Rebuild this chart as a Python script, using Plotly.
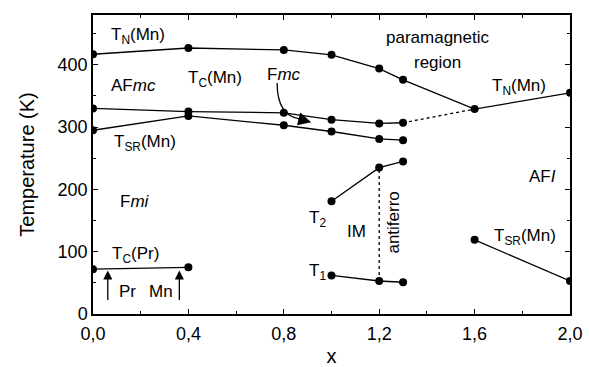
import plotly.graph_objects as go

# ---- data ----
tn_x = [0.0, 0.4, 0.8, 1.0, 1.2, 1.3, 1.6, 2.0]
tn_T = [417, 427, 424, 416, 394, 376, 329, 355]
tc_x = [0.0, 0.4, 0.8, 1.0, 1.2, 1.3]
tc_T = [330, 325, 323, 312, 306, 307]
tsr_x = [0.0, 0.4, 0.8, 1.0, 1.2, 1.3]
tsr_T = [295, 318, 303, 293, 281, 279]
tcpr_x = [0.0, 0.4]
tcpr_T = [72, 75]
t2_x = [1.0, 1.2, 1.3]
t2_T = [181, 235, 245]
t1_x = [1.0, 1.2, 1.3]
t1_T = [62, 53, 51]
tsr2_x = [1.6, 2.0]
tsr2_T = [119, 53]

x_ticks = [0.0, 0.4, 0.8, 1.2, 1.6, 2.0]
y_ticks = [0, 100, 200, 300, 400]

FONT = "Arial, Liberation Sans, sans-serif"
fig = go.Figure()

line = dict(color="black", width=1.3)
mk = dict(color="black", size=8)
for xs, ys in [(tn_x, tn_T), (tc_x, tc_T), (tsr_x, tsr_T), (tcpr_x, tcpr_T),
               (t2_x, t2_T), (t1_x, t1_T), (tsr2_x, tsr2_T)]:
    fig.add_trace(go.Scatter(x=xs, y=ys, mode="lines+markers", line=line,
                             marker=mk, showlegend=False, hoverinfo="skip"))

# dotted connections
fig.add_trace(go.Scatter(x=[tc_x[-1], tn_x[6]], y=[tc_T[-1], tn_T[6]], mode="lines",
                         line=dict(color="black", width=1.3, dash="dot"),
                         showlegend=False, hoverinfo="skip"))
fig.add_trace(go.Scatter(x=[t1_x[1], t2_x[1]], y=[t1_T[1], t2_T[1]], mode="lines",
                         line=dict(color="black", width=1.3, dash="dot"),
                         showlegend=False, hoverinfo="skip"))

TS = 17

def txt(x, y, s, angle=0, size=TS):
    fig.add_annotation(x=x, y=y, text=s, showarrow=False, textangle=angle,
                       font=dict(family=FONT, size=size, color="black"))

txt(0.19, 447, "T<sub>N</sub>(Mn)")
txt(0.17, 367, "AF<i>mc</i>")
txt(0.51, 378, "T<sub>C</sub>(Mn)")
txt(0.80, 384, "F<i>mc</i>")
txt(0.22, 274, "T<sub>SR</sub>(Mn)")
txt(1.446, 444, "paramagnetic")
txt(1.446, 404, "region")
txt(1.787, 364, "T<sub>N</sub>(Mn)")
txt(1.883, 220, "AF<i>I</i>")
txt(0.177, 180, "F<i>mi</i>")
txt(0.177, 94, "T<sub>C</sub>(Pr)")
txt(0.145, 36, "Pr")
txt(0.286, 36, "Mn")
txt(0.94, 153, "T<sub>2</sub>")
txt(1.106, 132, "IM")
txt(1.26, 146, "antiferro", angle=-90)
txt(0.94, 68, "T<sub>1</sub>")
txt(1.81, 123, "T<sub>SR</sub>(Mn)")

# up arrows
for xa in [0.062, 0.362]:
    fig.add_annotation(x=xa, y=70, ax=xa, ay=20, xref="x", yref="y", axref="x", ayref="y",
                       showarrow=True, arrowhead=2, arrowsize=1.4, arrowwidth=1.3,
                       arrowcolor="black", text="")

# curved arrow from Fmc
fig.add_shape(type="path", xref="x", yref="y",
              path="M 0.772,371 Q 0.772,318 0.87,313",
              line=dict(color="black", width=1.3))
fig.add_annotation(x=0.915, y=308, ax=0.855, ay=314, xref="x", yref="y", axref="x", ayref="y",
                   showarrow=True, arrowhead=2, arrowsize=2.0, arrowwidth=1.3,
                   arrowcolor="black", text="")

axis_common = dict(showline=True, linecolor="black", linewidth=1.5, mirror="allticks",
                   ticks="inside", ticklen=5, tickwidth=1.2, tickcolor="black",
                   showgrid=False, zeroline=False, automargin=False,
                   tickfont=dict(family=FONT, size=18, color="black"))

fig.update_xaxes(range=[0, 2.0], tickvals=x_ticks, tickformat=".1f", ticklabelstandoff=3,
                 minor=dict(dtick=0.2, ticks="inside", ticklen=3, tickcolor="black"),
                 title=dict(text="x", font=dict(family=FONT, size=20, color="black"), standoff=14),
                 **axis_common)
fig.update_yaxes(range=[0, 480], tickvals=y_ticks,
                 minor=dict(dtick=50, ticks="inside", ticklen=3, tickcolor="black"),
                 title=dict(text="Temperature (K)", font=dict(family=FONT, size=20, color="black"),
                            standoff=18),
                 **axis_common)

fig.update_layout(width=589, height=367, margin=dict(l=93, r=19, t=15, b=53),
                  plot_bgcolor="white", paper_bgcolor="white", separators=", ",
                  font=dict(family=FONT, color="black"))

fig.write_html("out.html")
